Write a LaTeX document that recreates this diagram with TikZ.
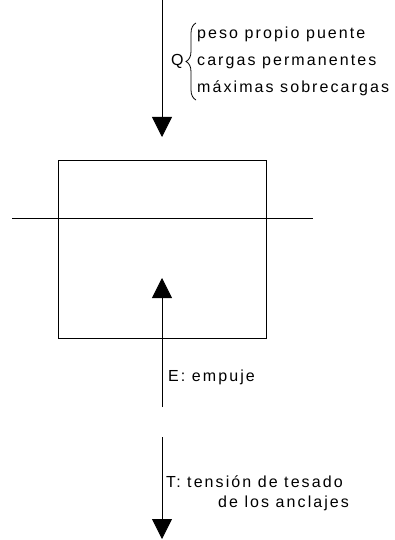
\documentclass[tikz,border=0pt]{standalone}
\usepackage{fontspec}
\setmainfont{Liberation Sans}[LetterSpace=13]
\usetikzlibrary{arrows.meta,decorations.pathreplacing,positioning}

\begin{document}
\begin{tikzpicture}
                    [x=1pt, y=-1pt,
                    part/.style={line width=0.8pt},
                    force/.style={line width=0.8pt,
                        -{Triangle[length=20pt,width=20pt]}},
                    lbl/.style={anchor=base west, inner sep=0pt,
                        font=\fontsize{16}{16}\selectfont}]

                    \useasboundingbox (0,0) rectangle (395,540);

                    % bloque y linea de agua
                    \node[part, draw, inner sep=0pt,
                        minimum width=208pt, minimum height=178pt]
                        (block) at (162,249) {};
                    \coordinate (wl-w) at (12,218);
                    \coordinate (wl-e) at (313,218);
                    \draw[part] (wl-w) -- (wl-e);

                    % cargas Q
                    \coordinate (q-top) at (162,0);
                    \coordinate (q-tip) at (162,137);
                    \node[lbl] (q) at (171,66) {Q};
                    \node[lbl] (q1) at (197,39) {peso propio puente};
                    \node[lbl] (q2) at (197,66) {cargas permanentes};
                    \node[lbl] (q3) at (197,93) {máximas sobrecargas};
                    \coordinate (br-bot) at (196,100);
                    \coordinate (br-top) at (196,23);
                    \draw[part, decorate,
                        decoration={brace, amplitude=10pt}]
                        (br-bot) -- (br-top);

                    % empuje E
                    \coordinate (e-foot) at (162,407);
                    \coordinate (e-tip) at (162,278);
                    \node[lbl] (e) at (168,381) {E: empuje};

                    % tension T
                    \coordinate (t-top) at (162,437);
                    \coordinate (t-tip) at (162,539);
                    \node[lbl] (t1) at (166,487) {T: tensión de tesado};
                    \node[lbl] (t2) at (218,507) {de los anclajes};

                    \path[force]
                        (q-top)  edge (q-tip)
                        (e-foot) edge (e-tip)
                        (t-top)  edge (t-tip);
                \end{tikzpicture}
\end{document}
